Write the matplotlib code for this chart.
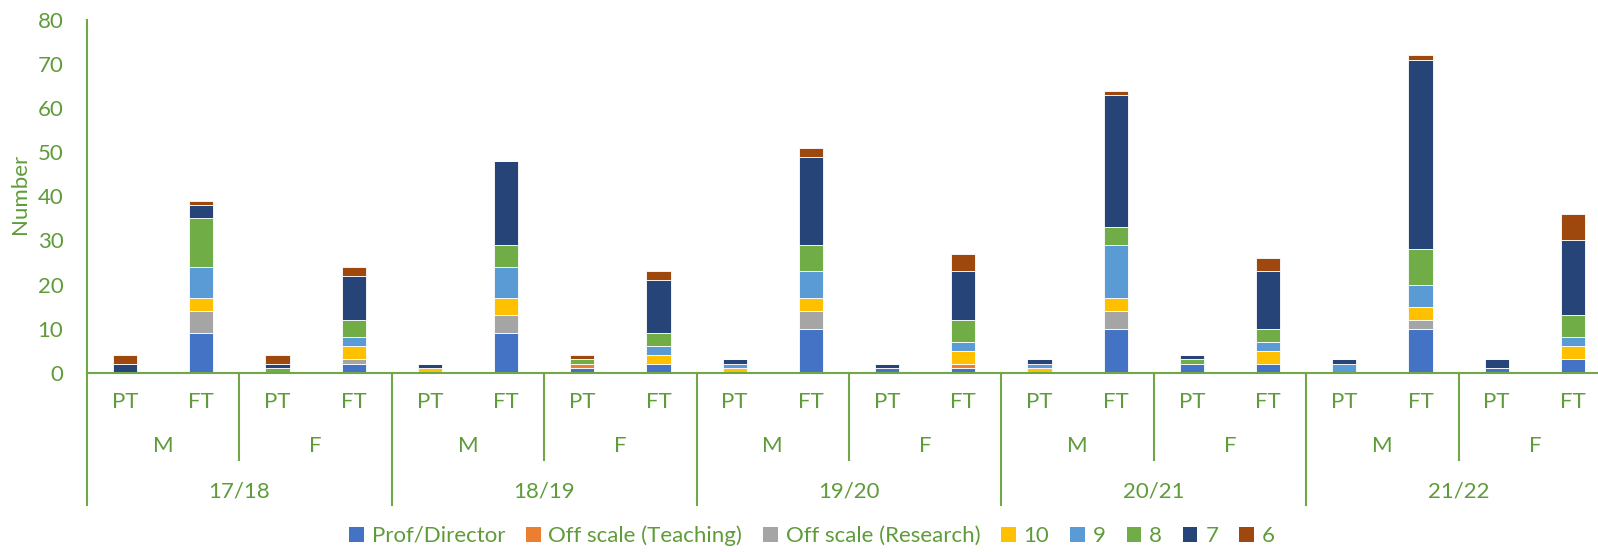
import matplotlib
matplotlib.use("Agg")
import matplotlib.pyplot as plt
import matplotlib.transforms as mtransforms
from matplotlib.patches import Patch
from matplotlib.lines import Line2D
import numpy as np

plt.rcParams['font.family'] = ['Lato', 'DejaVu Sans']

years = ["17/18", "18/19", "19/20", "20/21", "21/22"]
sexes = ["M", "F"]
modes = ["PT", "FT"]

series_names = ["Prof/Director", "Off scale (Teaching)", "Off scale (Research)",
                "10", "9", "8", "7", "6"]
series_colors = ["#4472C4", "#ED7D31", "#A5A5A5", "#FFC000",
                 "#5B9BD5", "#70AD47", "#264478", "#9E480E"]

# order per year: M PT, M FT, F PT, F FT
prof      = [0, 9, 0, 2,   0, 9, 1, 2,   0, 10, 1, 1,   0, 10, 2, 2,   0, 10, 1, 3]
off_teach = [0, 0, 0, 0,   0, 0, 1, 0,   0, 0, 0, 1,    0, 0, 0, 0,    0, 0, 0, 0]
off_res   = [0, 5, 0, 1,   0, 4, 0, 0,   0, 4, 0, 0,    0, 4, 0, 0,    0, 2, 0, 0]
g10       = [0, 3, 0, 3,   1, 4, 0, 2,   1, 3, 0, 3,    1, 3, 0, 3,    0, 3, 0, 3]
g9        = [0, 7, 0, 2,   0, 7, 0, 2,   1, 6, 0, 2,    1, 12, 0, 2,   2, 5, 0, 2]
g8        = [0, 11, 1, 4,  0, 5, 1, 3,   0, 6, 0, 5,    0, 4, 1, 3,    0, 8, 0, 5]
g7        = [2, 3, 1, 10,  1, 19, 0, 12, 1, 20, 1, 11,  1, 30, 1, 13,  1, 43, 2, 17]
g6        = [2, 1, 2, 2,   0, 0, 1, 2,   0, 2, 0, 4,    0, 1, 0, 3,    0, 1, 0, 6]

series = [prof, off_teach, off_res, g10, g9, g8, g7, g6]

TEXT = "#5E9C3A"
LINE = "#70A848"

W, H = 1598, 552
fig = plt.figure(figsize=(W / 100, H / 100), dpi=100)
left_px, right_px = 87, 1611
top_px, base_px = 20, 372.7
ax = fig.add_axes([left_px / W, (H - base_px) / H,
                   (right_px - left_px) / W, (base_px - top_px) / H])

n = len(prof)
x = np.arange(n)
bottom = np.zeros(n)
for vals, name, col in zip(series, series_names, series_colors):
    v = np.array(vals, dtype=float)
    ax.bar(x, v, 0.315, bottom=bottom, color=col, edgecolor="white",
           linewidth=0.6, label=name, zorder=2)
    bottom += v

ax.set_xlim(-0.5, n - 0.5)
ax.set_ylim(0, 80)
ax.set_yticks(range(0, 81, 10))
ax.tick_params(axis="y", length=0, pad=17, labelsize=16, labelcolor=TEXT)
ax.set_xticks([])
for s in ["top", "right"]:
    ax.spines[s].set_visible(False)
ax.spines["left"].set_color(LINE)
ax.spines["bottom"].set_color(LINE)
ax.spines["left"].set_linewidth(1.5)
ax.spines["bottom"].set_linewidth(1.5)
ax.spines["bottom"].set_zorder(3)

fig.text(20.5 / W, 1 - 194 / H, "Number", rotation=90, ha="center", va="center",
         fontsize=16, color=TEXT)

trans = mtransforms.blended_transform_factory(ax.transData, fig.transFigure)
def fy(py):
    return 1 - py / H

# category labels
labels_mode = [m for _ in years for _ in sexes for m in modes]
for i, lab in enumerate(labels_mode):
    ax.text(i, fy(401.5), lab, transform=trans, ha="center", va="center",
            fontsize=16, color=TEXT, clip_on=False)
for yi, yr in enumerate(years):
    for si, sx in enumerate(sexes):
        c = yi * 4 + si * 2 + 0.5
        ax.text(c, fy(446), sx, transform=trans, ha="center", va="center",
                fontsize=16, color=TEXT, clip_on=False)
    ax.text(yi * 4 + 1.5, fy(491), yr, transform=trans, ha="center", va="center",
            fontsize=16, color=TEXT, clip_on=False)

# separators
for yi in range(len(years) + 1):
    xs = yi * 4 - 0.5
    ax.add_line(Line2D([xs, xs], [fy(base_px), fy(505)], transform=trans,
                       color=LINE, linewidth=1.5, clip_on=False))
for yi in range(len(years)):
    xs = yi * 4 + 1.5
    ax.add_line(Line2D([xs, xs], [fy(base_px), fy(460)], transform=trans,
                       color=LINE, linewidth=1.5, clip_on=False))

handles = [Patch(facecolor=c, edgecolor="none") for c in series_colors]
leg = fig.legend(handles, series_names, loc="center", ncol=8,
                 bbox_to_anchor=(812 / W, fy(535.7)), frameon=False,
                 fontsize=16, handlelength=0.65, handleheight=0.65,
                 handletextpad=0.35, columnspacing=0.95, borderaxespad=0)
for t in leg.get_texts():
    t.set_color(TEXT)

fig.savefig("out.png", dpi=100)
